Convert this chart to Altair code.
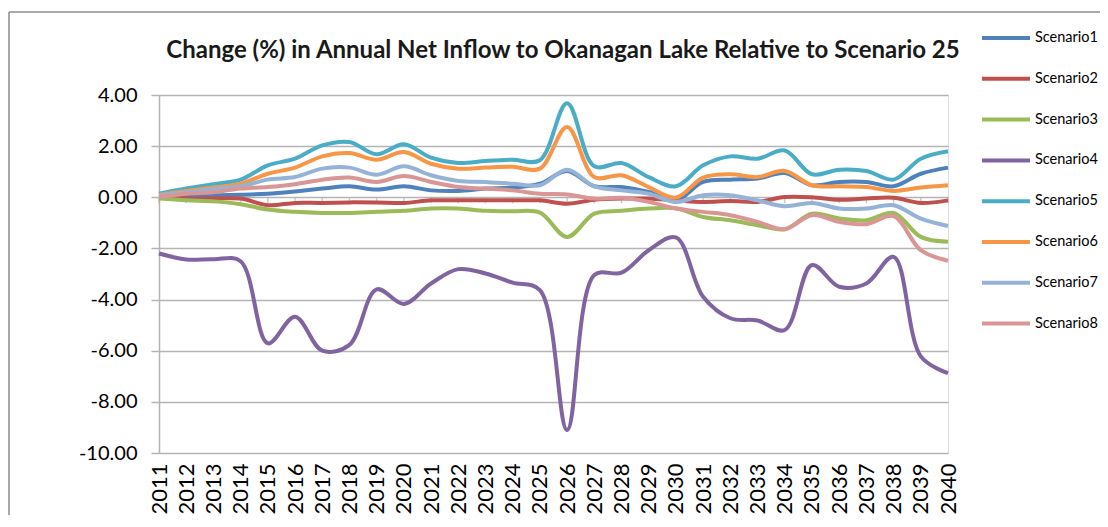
import altair as alt
import pandas as pd

years = [str(y) for y in range(2011, 2041)]

scenario_names = ["Scenario1", "Scenario2", "Scenario3", "Scenario4",
                  "Scenario5", "Scenario6", "Scenario7", "Scenario8"]

s1 = [0.03, 0.05, 0.08, 0.10, 0.14, 0.23, 0.34, 0.43, 0.30, 0.43,
      0.27, 0.25, 0.34, 0.38, 0.53, 1.03, 0.43, 0.40, 0.21, -0.12,
      0.60, 0.69, 0.73, 0.95, 0.47, 0.60, 0.60, 0.43, 0.92, 1.16]
s2 = [0.00, -0.05, -0.05, -0.05, -0.31, -0.22, -0.22, -0.20, -0.20, -0.22,
      -0.12, -0.12, -0.12, -0.12, -0.12, -0.25, -0.10, -0.05, -0.05, -0.12,
      -0.18, -0.15, -0.18, 0.01, 0.00, -0.10, -0.05, -0.02, -0.22, -0.12]
s3 = [-0.05, -0.12, -0.16, -0.27, -0.48, -0.57, -0.61, -0.61, -0.57, -0.53,
      -0.44, -0.44, -0.53, -0.55, -0.60, -1.55, -0.64, -0.53, -0.44, -0.43,
      -0.77, -0.90, -1.09, -1.25, -0.64, -0.83, -0.90, -0.61, -1.55, -1.74]
s4 = [-2.20, -2.43, -2.42, -2.50, -5.71, -4.67, -6.00, -5.77, -3.60, -4.17,
      -3.37, -2.81, -2.98, -3.34, -3.63, -9.10, -3.04, -2.95, -2.07, -1.57,
      -3.89, -4.73, -4.82, -5.19, -2.65, -3.50, -3.37, -2.33, -6.22, -6.88]
s5 = [0.14, 0.34, 0.51, 0.69, 1.25, 1.51, 2.03, 2.16, 1.68, 2.07,
      1.55, 1.34, 1.42, 1.47, 1.45, 3.68, 1.21, 1.34, 0.79, 0.43,
      1.25, 1.60, 1.51, 1.83, 0.90, 1.08, 1.03, 0.69, 1.51, 1.80]
s6 = [0.10, 0.25, 0.38, 0.53, 0.92, 1.16, 1.60, 1.73, 1.47, 1.77,
      1.31, 1.12, 1.16, 1.19, 1.12, 2.75, 0.79, 0.86, 0.40, -0.01,
      0.77, 0.90, 0.79, 1.03, 0.47, 0.43, 0.40, 0.25, 0.38, 0.47]
s7 = [0.07, 0.20, 0.32, 0.43, 0.69, 0.79, 1.12, 1.16, 0.88, 1.21,
      0.86, 0.64, 0.60, 0.53, 0.47, 1.08, 0.43, 0.27, 0.14, -0.18,
      0.08, 0.08, -0.12, -0.35, -0.22, -0.44, -0.44, -0.31, -0.83, -1.12]
s8 = [0.00, 0.14, 0.20, 0.34, 0.40, 0.51, 0.69, 0.77, 0.60, 0.83,
      0.60, 0.40, 0.34, 0.27, 0.14, 0.11, -0.05, -0.02, -0.18, -0.44,
      -0.57, -0.70, -0.96, -1.25, -0.70, -0.96, -1.05, -0.74, -2.07, -2.48]

series = [s1, s2, s3, s4, s5, s6, s7, s8]
colors = ["#4F81BD", "#C0504D", "#9BBB59", "#8064A2",
          "#4BACC6", "#F79646", "#95B3D7", "#D99694"]
y_ticks = [4, 2, 0, -2, -4, -6, -8, -10]
title_text = "Change (%) in Annual Net Inflow to Okanagan Lake Relative to Scenario 25"

rows = []
for name, vals in zip(scenario_names, series):
    for yr, v in zip(years, vals):
        rows.append({"year": yr, "value": v, "scenario": name})
df = pd.DataFrame(rows)
df_years = pd.DataFrame({"year": years})

GRID = "#b4b4b4"
FONT = "Lato"

x_enc = alt.X("year:O", sort=years,
              scale=alt.Scale(type="point", padding=0),
              axis=alt.Axis(title=None, labelAngle=-90, ticks=False, domain=False,
                            labelPadding=10, labelFont=FONT, labelFontSize=22,
                            labelColor="#000000", grid=False))
y_scale = alt.Scale(domain=[-10, 4], nice=False, zero=False)

lines = alt.Chart(df).mark_line(strokeWidth=4, interpolate="catmull-rom").encode(
    x=x_enc,
    y=alt.Y("value:Q", scale=y_scale,
            axis=alt.Axis(title=None, values=y_ticks,
                          labelExpr="(datum.value < 0 ? '-' : '') + format(abs(datum.value), '.2f')",
                          labelFont=FONT, labelFontSize=20, labelColor="#000000",
                          labelPadding=14, tickSize=8, tickColor=GRID, tickWidth=1.5,
                          domainColor=GRID, domainWidth=1.5,
                          grid=True, gridColor=GRID, gridWidth=1.5)),
    color=alt.Color("scenario:N", sort=scenario_names,
                    scale=alt.Scale(domain=scenario_names, range=colors),
                    legend=alt.Legend(title=None, orient="none", legendX=821, legendY=-83,
                                      symbolType="stroke", symbolSize=2304,
                                      symbolStrokeWidth=4, rowPadding=6.8,
                                      labelOffset=3, labelFont=FONT, labelFontSize=14.5,
                                      labelColor="#000000", padding=0)),
)

zero_ticks = alt.Chart(df_years).mark_tick(orient="vertical", size=6, thickness=1.5,
                                            color=GRID, yOffset=3).encode(
    x=alt.X("year:O", sort=years, scale=alt.Scale(type="point", padding=0)),
    y=alt.datum(0),
)

one = pd.DataFrame({"a": [0]})
top_border = alt.Chart(one).mark_rule(color="#8c8c8c", strokeWidth=1.5).encode(
    x=alt.value(-150), x2=alt.value(945), y=alt.value(-83))
left_border = alt.Chart(one).mark_rule(color="#8c8c8c", strokeWidth=1.5).encode(
    x=alt.value(-150), y=alt.value(-83), y2=alt.value(430))

title_mark = alt.Chart(pd.DataFrame({"t": [title_text]})).mark_text(
    font=FONT, fontSize=24, fontWeight="bold", color="#1a1a1a",
    align="center", baseline="alphabetic").encode(
    x=alt.value(404), y=alt.value(-37), text="t:N")

chart = alt.layer(top_border, left_border, zero_ticks, lines, title_mark).properties(
    width=789, height=358,
    autosize=alt.AutoSizeParams(type="none"),
    padding={"left": 151, "top": 87, "right": 152, "bottom": 62},
).configure_view(stroke=None).configure(background="white")

chart.save("out.html", embed_options={"renderer": "svg", "actions": False})
